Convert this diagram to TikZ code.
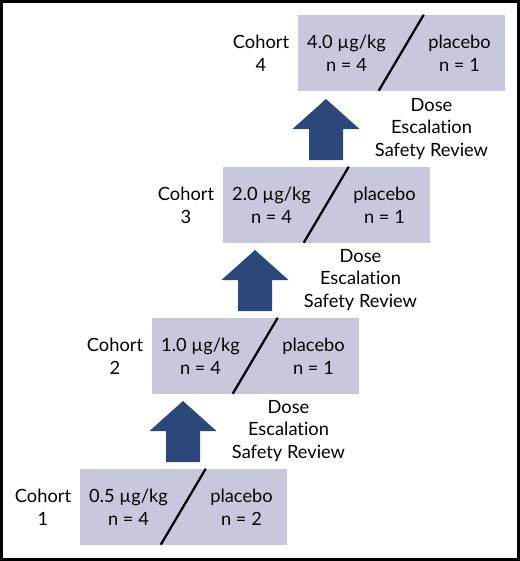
\documentclass[tikz,border=0pt]{standalone}
\usepackage{fontspec}
\setmainfont[Ligatures=NoCommon]{Lato}
\definecolor{boxfill}{RGB}{200,200,220}
\definecolor{arrowblue}{RGB}{44,72,122}
\tikzset{
	dosebox/.style={fill=boxfill, minimum width=155.25pt, minimum height=57pt, inner sep=0pt},
	txt/.style={align=center, inner sep=0pt, font=\fontsize{13.7}{16.9}\selectfont},
	slash/.style={line width=1.7pt},
	uparrow/.style={fill=arrowblue}
}
\begin{document}
\begin{tikzpicture}[x=0.75pt,y=-0.75pt]
	\useasboundingbox (0,0) rectangle (520,561);
	\draw[line width=2pt] (1.3,1.3) rectangle (518.7,559.7);
	% boxes
	\node[dosebox] (box1) at (183.5,507) {};
	\node[dosebox] (box2) at (255.5,356) {};
	\node[dosebox] (box3) at (326.5,205) {};
	\node[dosebox] (box4) at (401.5,53) {};
	\draw[slash] (box1.north west) ++(126,0) -- ++(-45,76);
	\draw[slash] (box2.north west) ++(126,0) -- ++(-45,76);
	\draw[slash] (box3.north west) ++(126,0) -- ++(-45,76);
	\draw[slash] (box4.north west) ++(126,0) -- ++(-45,76);
	% cohort labels
	\node[txt] (cohort1) at (43,507.5) {Cohort\\1};
	\node[txt] (cohort2) at (115,356.5) {Cohort\\2};
	\node[txt] (cohort3) at (186,205.5) {Cohort\\3};
	\node[txt] (cohort4) at (261,53.5) {Cohort\\4};
	\node[txt] (dose1) at (128.5,507.5) {0.5 µg/kg\\n = 4};
	\node[txt] (dose2) at (200.5,356.5) {1.0 µg/kg\\n = 4};
	\node[txt] (dose3) at (271.5,205.5) {2.0 µg/kg\\n = 4};
	\node[txt] (dose4) at (346.5,53.5) {4.0 µg/kg\\n = 4};
	\node[txt] (plac1) at (241.5,507.5) {placebo\\n = 2};
	\node[txt] (plac2) at (313.5,356.5) {placebo\\n = 1};
	\node[txt] (plac3) at (384.5,205.5) {placebo\\n = 1};
	\node[txt] (plac4) at (459.5,53.5) {placebo\\n = 1};
	% escalation arrows
	\fill[uparrow] (166,462) -- (166,431) -- (149.5,431) -- (183,401) -- (216.5,431) -- (200,431) -- (200,462) -- cycle;
	\fill[uparrow] (238,311) -- (238,280) -- (221.5,280) -- (255,250) -- (288.5,280) -- (272,280) -- (272,311) -- cycle;
	\fill[uparrow] (309,160) -- (309,129) -- (292.5,129) -- (326,99) -- (359.5,129) -- (343,129) -- (343,160) -- cycle;
	\node[txt] (review1) at (288.5,431) {Dose\\Escalation\\Safety Review};
	\node[txt] (review2) at (360.5,280) {Dose\\Escalation\\Safety Review};
	\node[txt] (review3) at (431.5,129) {Dose\\Escalation\\Safety Review};
\end{tikzpicture}
\end{document}
